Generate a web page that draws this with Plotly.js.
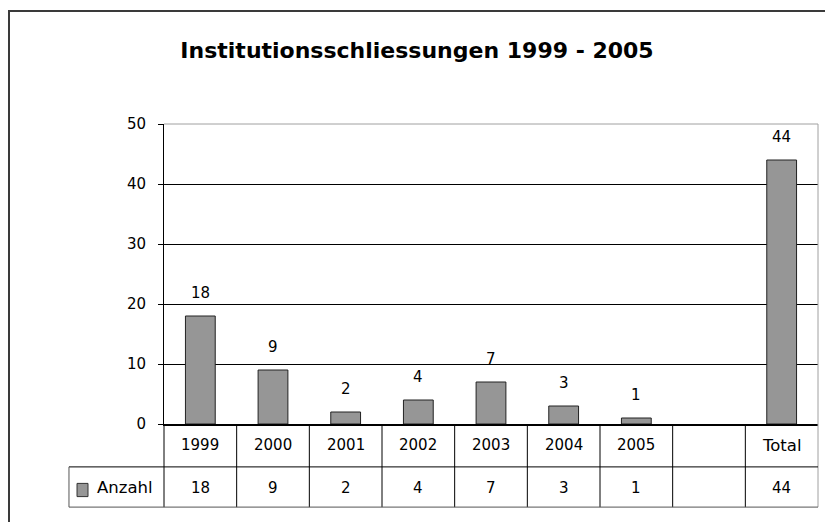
<!DOCTYPE html>
<html>
<head>
<meta charset="utf-8">
<script src="https://cdn.plot.ly/plotly-3.0.1.min.js"></script>
<style>
  html, body { margin: 0; padding: 0; background: #fff; }
  #wrap { position: relative; width: 825px; height: 522px; }
  #chart { position: absolute; left: 0; top: 0; width: 825px; height: 522px; }
  #frame { position: absolute; left: 8px; top: 10px; width: 830px; height: 530px;
           border-left: 2px solid #3a3a3a; border-top: 2px solid #3a3a3a; pointer-events: none; }
</style>
</head>
<body>
<div id="wrap">
  <div id="chart"></div>
  <div id="frame"></div>
</div>
<script>
const titleText = 'Institutionsschliessungen 1999 - 2005';
const categories = ['1999', '2000', '2001', '2002', '2003', '2004', '2005', '', 'Total'];
const anzahl = [18, 9, 2, 4, 7, 3, 1, null, 44];
const seriesName = 'Anzahl';
const yTicks = [0, 10, 20, 30, 40, 50];

const FONT = 'DejaVu Sans, Verdana, sans-serif';
const BAR = '#969696';
const idx = categories.map((c, i) => i);

// table geometry in paper units
const yRow1 = -0.143;   // line between header row and value row
const yRow2 = -0.277;   // bottom of table
const xTableLeft = -0.1453;

function labelSize(t) { return /[A-Za-z]/.test(t) ? 16.5 : 15; }

const shapes = [];
for (let i = 0; i < categories.length - 1; i++) {
  shapes.push({type: 'line', xref: 'x', yref: 'paper', x0: i + 0.5, x1: i + 0.5,
               y0: yRow2, y1: 0, line: {color: '#000', width: 1}});
}
shapes.push({type: 'line', xref: 'paper', yref: 'paper', x0: 1, x1: 1, y0: yRow2, y1: 1,
             line: {color: '#a0a0a0', width: 1}});
shapes.push({type: 'line', xref: 'paper', yref: 'paper', x0: 0, x1: 1, y0: 1, y1: 1,
             line: {color: '#a0a0a0', width: 1}, layer: 'above'});
shapes.push({type: 'line', xref: 'paper', yref: 'paper', x0: 0, x1: 0, y0: yRow2, y1: 0,
             line: {color: '#000', width: 1}});
shapes.push({type: 'line', xref: 'paper', yref: 'paper', x0: xTableLeft, x1: 1, y0: yRow1, y1: yRow1,
             line: {color: '#000', width: 1}});
shapes.push({type: 'line', xref: 'paper', yref: 'paper', x0: xTableLeft, x1: 1, y0: yRow2, y1: yRow2,
             line: {color: '#555', width: 1}});
shapes.push({type: 'line', xref: 'paper', yref: 'paper', x0: xTableLeft, x1: xTableLeft, y0: yRow2, y1: yRow1,
             line: {color: '#555', width: 1}});
shapes.push({type: 'rect', xref: 'paper', yref: 'paper', x0: -0.1330, x1: -0.1162, y0: -0.242, y1: -0.198,
             fillcolor: BAR, line: {color: '#333', width: 1}});

const annotations = [];
categories.forEach((c, i) => {
  annotations.push({x: i, xref: 'x', y: -0.07, yref: 'paper', text: c, showarrow: false,
                    yanchor: 'middle', font: {family: FONT, size: labelSize(c), color: '#000'}});
  annotations.push({x: i, xref: 'x', y: -0.213, yref: 'paper',
                    text: anzahl[i] == null ? '' : String(anzahl[i]), showarrow: false,
                    yanchor: 'middle', font: {family: FONT, size: 15, color: '#000'}});
  if (anzahl[i] != null) {
    annotations.push({x: i, xref: 'x', y: anzahl[i], yref: 'y', text: String(anzahl[i]),
                      showarrow: false, yanchor: 'bottom', yshift: 12,
                      font: {family: FONT, size: 15, color: '#000'}});
  }
});
annotations.push({x: -0.105, xref: 'paper', y: -0.213, yref: 'paper', text: seriesName,
                  showarrow: false, xanchor: 'left', yanchor: 'middle',
                  font: {family: FONT, size: 16.5, color: '#000'}});

const trace = {
  type: 'bar', x: idx, y: anzahl, name: seriesName,
  marker: {color: BAR, line: {color: '#222', width: 1}},
  hoverinfo: 'none'
};

const layout = {
  width: 825, height: 522,
  margin: {l: 164, r: 7, t: 124, b: 98, pad: 0},
  paper_bgcolor: '#fff', plot_bgcolor: '#fff',
  showlegend: false,
  bargap: 0.59,
  title: {text: '<b>' + titleText + '</b>', x: 0.5055, xref: 'container', y: 0.904, yref: 'container',
          yanchor: 'middle', font: {family: FONT, size: 22, color: '#000'}},
  xaxis: {range: [-0.5, categories.length - 0.5], showticklabels: false, showgrid: false,
          zeroline: false, showline: true, linecolor: '#000', linewidth: 2, ticks: '', fixedrange: true},
  yaxis: {range: [0, 50], tickvals: yTicks, ticktext: yTicks.map(String), showgrid: true,
          gridcolor: '#000', gridwidth: 1, zeroline: false, showline: true, linecolor: '#000',
          linewidth: 1, ticks: 'outside', ticklen: 5, tickcolor: '#000', ticklabelstandoff: 9,
          tickfont: {family: FONT, size: 15, color: '#000'}, fixedrange: true},
  shapes: shapes,
  annotations: annotations
};

Plotly.newPlot('chart', [trace], layout, {displayModeBar: false, staticPlot: true});
</script>
</body>
</html>
